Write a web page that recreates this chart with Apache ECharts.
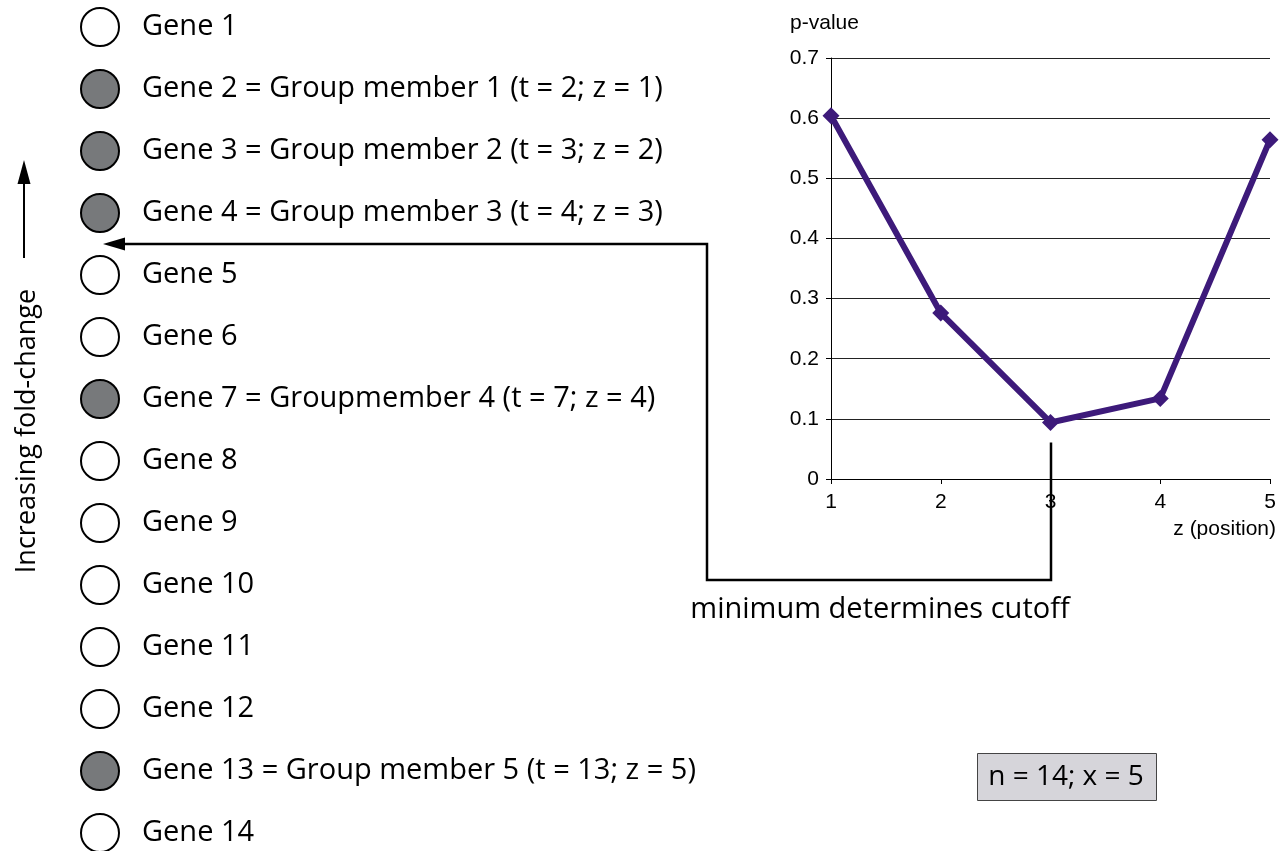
<!DOCTYPE html>
<html>
<head>
<meta charset="utf-8">
<script src="https://cdn.jsdelivr.net/npm/echarts@6/dist/echarts.min.js"></script>
<style>
  html, body { margin: 0; background: #fff; }
  #chart { width: 1285px; height: 851px; }
</style>
</head>
<body>
<div id="chart"></div>
<script>
// genes ranked by fold-change, top to bottom
const geneLabels = [
  "Gene 1",
  "Gene 2 = Group member 1 (t = 2; z = 1)",
  "Gene 3 = Group member 2 (t = 3; z = 2)",
  "Gene 4 = Group member 3 (t = 4; z = 3)",
  "Gene 5",
  "Gene 6",
  "Gene 7 = Groupmember 4 (t = 7; z = 4)",
  "Gene 8",
  "Gene 9",
  "Gene 10",
  "Gene 11",
  "Gene 12",
  "Gene 13 = Group member 5 (t = 13; z = 5)",
  "Gene 14",
];
const isGroupMember = [0, 1, 1, 1, 0, 0, 1, 0, 0, 0, 0, 0, 1, 0];

// p-value per group position z
const zValues = [1, 2, 3, 4, 5];
const pValues = [0.604, 0.276, 0.094, 0.134, 0.564];

const summaryText = "n = 14; x = 5";
const cutoffText = "minimum determines cutoff";
const sideText = "Increasing fold-change";

const textFont = '"Open Sans", sans-serif';
const axisFont = '"Liberation Sans", Arial, sans-serif';

var myChart = echarts.init(document.getElementById("chart"));

var option = {
  animation: false,
  backgroundColor: "#fff",
  grid: [
    { left: 831, top: 58, width: 439, height: 421 },
    { left: 100, top: 27, width: 10, height: 806 },
  ],
  xAxis: [
    {
      gridIndex: 0,
      type: "value",
      min: 1,
      max: 5,
      interval: 1,
      name: "z (position)",
      nameLocation: "end",
      nameGap: 0,
      nameTextStyle: {
        fontFamily: axisFont,
        fontSize: 21,
        color: "#000",
        align: "right",
        verticalAlign: "top",
        padding: [40, -6, 0, 0],
      },
      axisLine: { lineStyle: { color: "#000", width: 1 } },
      axisTick: { show: true, length: 5, lineStyle: { color: "#000" } },
      axisLabel: { fontFamily: axisFont, fontSize: 21, color: "#000", margin: 13 },
      splitLine: { show: false },
    },
    { gridIndex: 1, type: "value", min: 0, max: 1, show: false },
  ],
  yAxis: [
    {
      gridIndex: 0,
      type: "value",
      min: 0,
      max: 0.7,
      interval: 0.1,
      name: "p-value",
      nameLocation: "end",
      nameGap: 24,
      nameTextStyle: {
        fontFamily: axisFont,
        fontSize: 21,
        color: "#000",
        padding: [0, 13, 0, 0],
      },
      axisLine: { show: true, lineStyle: { color: "#000", width: 1 } },
      axisTick: { show: true, length: 5, lineStyle: { color: "#000" } },
      axisLabel: { fontFamily: axisFont, fontSize: 21, color: "#000", margin: 12 },
      splitLine: { show: true, lineStyle: { color: "#222", width: 1 } },
    },
    { gridIndex: 1, type: "value", min: 1, max: 14, inverse: true, show: false },
  ],
  series: [
    {
      type: "line",
      xAxisIndex: 0,
      yAxisIndex: 0,
      data: zValues.map((z, i) => [z, pValues[i]]),
      symbol: "diamond",
      symbolSize: 17,
      showAllSymbol: true,
      lineStyle: { color: "#3d1a7a", width: 6 },
      itemStyle: { color: "#3d1a7a" },
      z: 5,
    },
    {
      type: "scatter",
      xAxisIndex: 1,
      yAxisIndex: 1,
      symbol: "circle",
      symbolSize: 38,
      data: geneLabels.map((name, i) => ({
        value: [0, i + 1],
        name: name,
        itemStyle: { color: isGroupMember[i] ? "#77797b" : "#fff" },
      })),
      itemStyle: { borderColor: "#000", borderWidth: 2, opacity: 1 },
      label: {
        show: true,
        position: "right",
        distance: 22,
        formatter: "{b}",
        fontFamily: textFont,
        fontSize: 29,
        color: "#000",
        opacity: 1,
      },
      emphasis: { disabled: true },
    },
  ],
};

myChart.setOption(option);

// connector: from the minimum of the curve to the cutoff in the gene list
var minIdx = pValues.indexOf(Math.min.apply(null, pValues));
var minPt = myChart.convertToPixel({ xAxisIndex: 0, yAxisIndex: 0 }, [zValues[minIdx], pValues[minIdx]]);
var memberRanks = [];
isGroupMember.forEach((m, i) => { if (m) memberRanks.push(i + 1); });
var cutPt = myChart.convertToPixel({ xAxisIndex: 1, yAxisIndex: 1 }, [0, memberRanks[minIdx] + 0.5]);

var connX = Math.round(minPt[0]);
var connTop = minPt[1] + 20;
var connBottom = 580;
var connLeft = 707;
var tipX = cutPt[0] + 3;
var cutY = Math.round(cutPt[1]);

myChart.setOption({
  graphic: [
    {
      type: "polyline",
      shape: {
        points: [
          [connX, connTop],
          [connX, connBottom],
          [connLeft, connBottom],
          [connLeft, cutY],
          [tipX + 18, cutY],
        ],
      },
      style: { stroke: "#000", lineWidth: 2.5, fill: null },
    },
    {
      type: "polygon",
      shape: { points: [[tipX, cutY], [tipX + 22, cutY - 6.5], [tipX + 22, cutY + 6.5]] },
      style: { fill: "#000" },
    },
    {
      type: "text",
      x: 880,
      y: 610,
      style: {
        text: cutoffText,
        font: "29px " + textFont,
        fill: "#000",
        textAlign: "center",
        textVerticalAlign: "middle",
      },
    },
    // fold-change direction arrow
    {
      type: "line",
      shape: { x1: 24, y1: 258, x2: 24, y2: 180 },
      style: { stroke: "#000", lineWidth: 2 },
    },
    {
      type: "polygon",
      shape: { points: [[24, 160], [17.5, 184], [30.5, 184]] },
      style: { fill: "#000" },
    },
    {
      type: "text",
      x: 27,
      y: 431,
      rotation: Math.PI / 2,
      style: {
        text: sideText,
        font: "27px " + textFont,
        fill: "#000",
        textAlign: "center",
        textVerticalAlign: "middle",
      },
    },
    // summary box
    {
      type: "rect",
      shape: { x: 977.5, y: 753.5, width: 179, height: 47 },
      style: { fill: "#d6d5da", stroke: "#444", lineWidth: 1 },
    },
    {
      type: "text",
      x: 1066,
      y: 777,
      style: {
        text: summaryText,
        font: "28px " + textFont,
        fill: "#000",
        textAlign: "center",
        textVerticalAlign: "middle",
      },
    },
  ],
});
</script>
</body>
</html>
